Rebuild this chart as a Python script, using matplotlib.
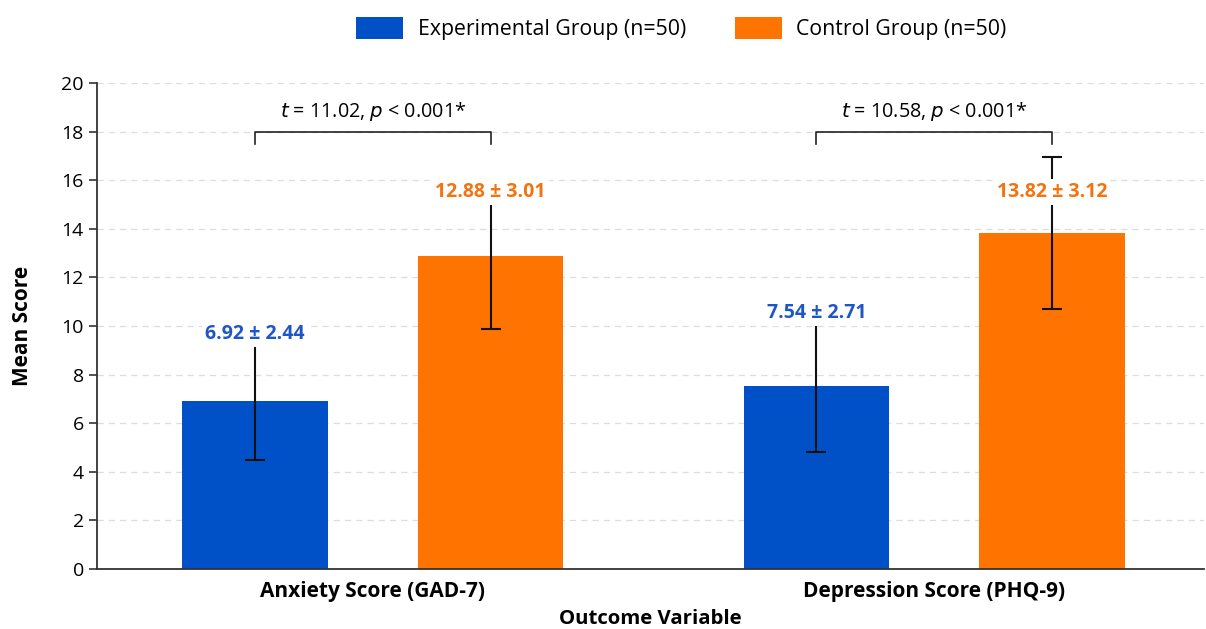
import numpy as np
import matplotlib.pyplot as plt

plt.rcParams['font.family'] = ['Open Sans', 'DejaVu Sans']

outcomes = ['Anxiety Score (GAD-7)', 'Depression Score (PHQ-9)']
groups = ['Experimental Group (n=50)', 'Control Group (n=50)']
exp_mean = [6.92, 7.54]
exp_sd = [2.44, 2.71]
ctrl_mean = [12.88, 13.82]
ctrl_sd = [3.01, 3.12]
t_values = [11.02, 10.58]
p_text = ['< 0.001*', '< 0.001*']

bar_colors = ['#0050C8', '#FF7300']
text_colors = ['#1F56C6', '#F2740F']

fig = plt.figure(figsize=(12.06, 6.29), dpi=100)
ax = fig.add_axes([0.0804, 0.0954, 0.918, 0.7727])

x = np.arange(len(outcomes))
width = 0.259
offset = 0.21

err_kw = dict(ecolor='#111111', elinewidth=1.5, capsize=7, capthick=1.5)
ax.bar(x - offset, exp_mean, width, yerr=exp_sd, color=bar_colors[0],
       label=groups[0], zorder=2, error_kw=err_kw)
ax.bar(x + offset, ctrl_mean, width, yerr=ctrl_sd, color=bar_colors[1],
       label=groups[1], zorder=2, error_kw=err_kw)

# mean ± sd labels above each bar (capped so they stay under the brackets)
for i in range(len(outcomes)):
    for xpos, m, s, c in [(x[i] - offset, exp_mean[i], exp_sd[i], text_colors[0]),
                          (x[i] + offset, ctrl_mean[i], ctrl_sd[i], text_colors[1])]:
        ypos = min(m + s + 0.3, 15.5)
        ax.text(xpos, ypos, f'{m:.2f} ± {s:.2f}', ha='center', va='center',
                fontsize=14, fontweight='bold', color=c, zorder=4,
                bbox=dict(boxstyle='square,pad=0.15', fc='white', ec='none'))

# significance brackets
for i in range(len(outcomes)):
    x0, x1 = x[i] - offset, x[i] + offset
    ax.plot([x0, x0, x1, x1], [17.5, 18.0, 18.0, 17.5], color='#222222', lw=1.2, zorder=3)
    ax.text((x0 + x1) / 2, 18.35, f'$t$ = {t_values[i]:.2f}, $p$ {p_text[i]}',
            ha='center', va='bottom', fontsize=14.2)

ax.set_xlim(-0.4916, 1.481)
ax.set_ylim(0, 20)
ax.set_yticks(np.arange(0, 21, 2))
ax.set_xticks(x)
ax.set_xticklabels(outcomes, fontsize=15, fontweight='bold')
ax.tick_params(axis='x', length=0, pad=9)
ax.tick_params(axis='y', labelsize=14, length=6, width=1.2, color='#333333')
ax.grid(axis='y', linestyle=(0, (5, 4)), color='#dddddd', linewidth=0.9, zorder=0)
ax.set_axisbelow(True)

for side in ['top', 'right']:
    ax.spines[side].set_visible(False)
for side in ['left', 'bottom']:
    ax.spines[side].set_color('#333333')
    ax.spines[side].set_linewidth(1.3)

ax.set_ylabel('Mean Score', fontsize=15, fontweight='bold', labelpad=20)
ax.set_xlabel('Outcome Variable', fontsize=14.7, fontweight='bold', labelpad=5)

fig.legend(loc='upper center', bbox_to_anchor=(0.565, 1.003), ncol=2, frameon=False,
           fontsize=15.3, handlelength=2.2, handleheight=1.2, columnspacing=2.3,
           handletextpad=0.7)

fig.savefig('out.png', dpi=100)
